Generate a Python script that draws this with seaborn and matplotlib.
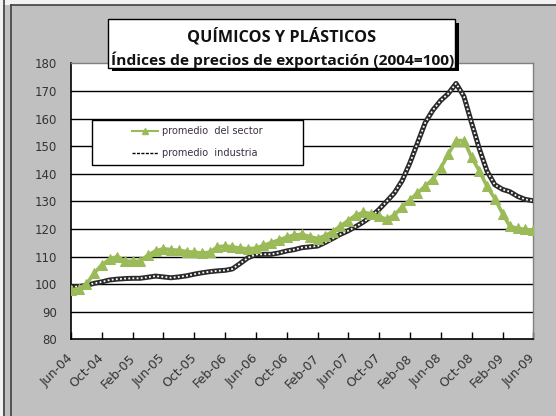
import numpy as np
import pandas as pd
import matplotlib
matplotlib.use("Agg")
import matplotlib.pyplot as plt
from matplotlib.patches import Rectangle
from matplotlib.lines import Line2D
import seaborn as sns

# ---------------- data ----------------
start_month = "2004-06-01"
sector = [98.0, 98.2, 100.0, 104.0, 107.0, 109.0, 110.0, 108.3, 108.3, 108.3,
          110.5, 112.0, 112.8, 112.5, 112.2, 111.8, 111.5, 111.3, 111.5, 113.5,
          113.8, 113.5, 113.0, 112.8, 113.0, 114.0, 115.0, 116.0, 117.0, 117.8,
          118.0, 117.2, 116.5, 117.5, 119.0, 121.0, 123.0, 125.0, 126.0, 125.5,
          124.5, 123.5, 125.0, 128.0, 130.5, 133.0, 135.5, 138.0, 142.0, 147.0,
          152.0, 152.0, 146.0, 141.0, 135.5, 131.0, 125.5, 121.0, 120.2, 119.8,
          119.5]
industria = [99.0, 99.1, 99.5, 100.3, 100.8, 101.5, 101.8, 102.0, 102.1, 102.1,
             102.5, 102.9, 102.6, 102.3, 102.6, 103.0, 103.6, 104.1, 104.5, 104.8,
             105.0, 105.5, 107.5, 109.5, 110.7, 110.8, 110.8, 111.3, 112.0, 112.5,
             113.2, 113.5, 113.8, 115.0, 116.5, 118.0, 119.3, 120.8, 122.5, 124.5,
             127.0, 130.0, 133.0, 137.5, 144.0, 151.0, 158.5, 163.0, 166.5, 169.0,
             172.7, 168.0, 158.5, 149.0, 141.0, 136.0, 134.3, 133.5, 131.8, 130.7,
             130.2]
tick_labels = ["Jun-04", "Oct-04", "Feb-05", "Jun-05", "Oct-05", "Feb-06",
               "Jun-06", "Oct-06", "Feb-07", "Jun-07", "Oct-07", "Feb-08",
               "Jun-08", "Oct-08", "Feb-09", "Jun-09"]
y_ticks = [80, 90, 100, 110, 120, 130, 140, 150, 160, 170, 180]
title1 = "QUÍMICOS Y PLÁSTICOS"
title2 = "Índices de precios de exportación (2004=100)"
lab_sector = "promedio  del sector"
lab_ind = "promedio  industria"

fechas = pd.date_range(start_month, periods=len(sector), freq="MS")
df = pd.DataFrame({"fecha": fechas, "sector": sector, "industria": industria})

# ---------------- figure ----------------
W, H = 556, 416
fig = plt.figure(figsize=(W / 100, H / 100), dpi=100)
fig.patch.set_facecolor("#c0c0c0")

def fx(x):
    return x / W

def fy(y):
    return 1 - y / H

# outer frame decorations
fig.add_artist(Rectangle((0, 0), fx(2.5), 1, transform=fig.transFigure,
                         facecolor="#f2f2f2", edgecolor="none"))
fig.add_artist(Rectangle((0, fy(4.5)), 1, 1 - fy(4.5), transform=fig.transFigure,
                         facecolor="#f2f2f2", edgecolor="none"))
fig.add_artist(Line2D([fx(3.5), fx(3.5)], [0, 1], transform=fig.transFigure,
                      color="#404040", lw=1.2))
fig.add_artist(Line2D([fx(10.5), fx(10.5)], [0, fy(5)], transform=fig.transFigure,
                      color="#404040", lw=1.2))
fig.add_artist(Line2D([fx(10.5), 1], [fy(5), fy(5)], transform=fig.transFigure,
                      color="#404040", lw=1.2))

left, right, top, bottom = 71, 533, 63.3, 339.3
ax = fig.add_axes([fx(left), fy(bottom), fx(right - left), (bottom - top) / H])
ax.set_facecolor("white")

# industry: dark thick line with white dots inside (chain look)
sns.lineplot(data=df, x="fecha", y="industria", ax=ax, color="#2a2a2a",
             lw=3.6, zorder=3, legend=False)
ax.plot(df["fecha"], df["industria"], color="white", lw=1.3,
        linestyle=(0, (1.0, 1.3)), zorder=4)
# sector: green with triangles
sns.lineplot(data=df, x="fecha", y="sector", ax=ax, color="#9BBB59", lw=2.6,
             marker="^", markersize=6.5, markeredgecolor="#9BBB59", zorder=5,
             legend=False)

ax.set_ylim(80, 180)
ax.set_xlim(fechas[0], fechas[-1])
ax.set_yticks(y_ticks)
ax.set_yticklabels([str(v) for v in y_ticks])
ax.grid(False)
for v in y_ticks[1:-1]:
    ax.axhline(v, color="black", lw=1.0, zorder=1)

tick_pos = fechas[::4]
ax.set_xticks(tick_pos)
ax.set_xticklabels(tick_labels, rotation=45, ha="right", va="center",
                   rotation_mode="anchor")
ax.tick_params(axis="x", direction="in", length=5, width=1, color="black",
               pad=12, labelsize=9, labelcolor="#333333")
ax.tick_params(axis="y", length=0, pad=10, labelsize=8.5, labelcolor="#333333")
ax.set_xlabel("")
ax.set_ylabel("")
for s in ["top", "right"]:
    ax.spines[s].set_color("#808080")
    ax.spines[s].set_linewidth(1.0)
for s in ["left", "bottom"]:
    ax.spines[s].set_color("black")
    ax.spines[s].set_linewidth(1.2)

# legend box
fig.add_artist(Rectangle((fx(91.7), fy(165)), fx(303.3 - 91.7), (165 - 120) / H,
                         transform=fig.transFigure, facecolor="white",
                         edgecolor="black", lw=1.0, zorder=8))
h1 = Line2D([], [], color="#9BBB59", lw=1.5, marker="^", markersize=5,
            markeredgecolor="#9BBB59")
h2 = Line2D([], [], color="black", lw=1.0, linestyle=(0, (2.2, 1.0)))
leg = fig.legend([h1, h2], [lab_sector, lab_ind], loc="center left",
                 bbox_to_anchor=(fx(131.7), fy(142)), borderaxespad=0,
                 borderpad=0, fontsize=7, frameon=False, labelspacing=1.25,
                 handlelength=2.7, handletextpad=0.4)
leg.set_zorder(9)
for t in leg.get_texts():
    t.set_color("#3a3040")

# title box with shadow
bx0, bx1, by0, by1 = 108, 455, 19.5, 67.5
fig.add_artist(Rectangle((fx(bx0 + 3.5), fy(by1 + 3.5)), fx(bx1 - bx0), (by1 - by0) / H,
                         transform=fig.transFigure, facecolor="black", edgecolor="none",
                         zorder=10))
fig.add_artist(Rectangle((fx(bx0), fy(by1)), fx(bx1 - bx0), (by1 - by0) / H,
                         transform=fig.transFigure, facecolor="white", edgecolor="black",
                         lw=1.0, zorder=11))
t1 = fig.text(fx(282), fy(37), title1, ha="center", va="center", fontsize=12,
              fontweight="bold", family="Open Sans", color="#111111", zorder=12)
t2 = fig.text(fx(283), fy(59.5), title2, ha="center", va="center", fontsize=12,
              fontweight="bold", family="Open Sans", color="#111111", zorder=12)
fig.canvas.draw()
r = fig.canvas.get_renderer()
for t, target in ((t1, 187), (t2, 341)):
    w = t.get_window_extent(r).width
    t.set_fontsize(12 * target / w)

fig.savefig("out.png", dpi=100, facecolor=fig.get_facecolor())
